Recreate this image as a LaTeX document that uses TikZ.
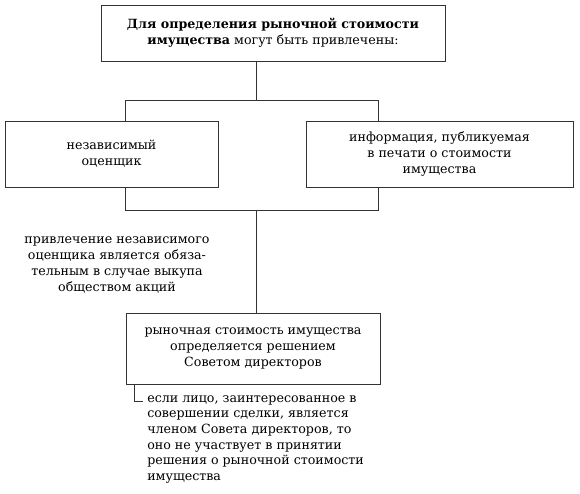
\documentclass[tikz,border=0pt]{standalone}
\usepackage{fontspec}
\setmainfont{DejaVu Serif}
\usepackage{tikz}
\usetikzlibrary{positioning}
\tikzstyle{line} = [thin, draw=black!80]
\tikzstyle{infobox} = [rectangle, draw=black!80, thin, align=center, inner sep=0pt, font=\fontsize{9.2}{11.8}\selectfont]
\tikzstyle{remark} = [inner sep=0pt, font=\fontsize{9.2}{11.4}\selectfont]

\begin{document}
\begin{tikzpicture}[x=0.727pt, y=-0.727pt]
\useasboundingbox (0,0) rectangle (580,494);
% Boxes
\node[infobox, minimum width=344*0.727pt, minimum height=56*0.727pt] (top) at (273,33)
  {\textbf{Для определения рыночной стоимости}\\\textbf{имущества} могут быть привлечены:};
\node[infobox, minimum width=213*0.727pt, minimum height=66*0.727pt] (appraiser) at (111.5,154)
  {независимый\\оценщик};
\node[infobox, minimum width=267*0.727pt, minimum height=66*0.727pt] (press) at (439.5,154)
  {информация, публикуемая\\в печати о стоимости\\имущества};
\node[infobox, minimum width=254*0.727pt, minimum height=71*0.727pt] (board) at (253,348.5)
  {рыночная стоимость имущества\\определяется решением\\Советом директоров};

% Remarks
\node[remark, align=center] (mandatory) at (117,265)
  {привлечение независимого\\оценщика является обяза-\\тельным в случае выкупа\\обществом акций};
\node[remark, align=left, anchor=north west] (interest) at (147,395)
  {если лицо, заинтересованное в\\совершении сделки, является\\членом Совета директоров, то\\оно не участвует в принятии\\решения о рыночной стоимости\\имущества};

% Connectors
\coordinate (split) at (256,100);
\coordinate (splitl) at (125,100);
\coordinate (splitr) at (378,100);
\coordinate (joinl) at (125,210);
\coordinate (joinr) at (378,210);
\coordinate (join) at (256,210);
\coordinate (foot) at (134,401);
\coordinate (tick) at (143,401);
\draw[line] (top.south -| split) -- (split);
\draw[line] (appraiser.north -| splitl) -- (splitl) -- (splitr) -- (press.north -| splitr);
\draw[line] (appraiser.south -| joinl) -- (joinl) -- (joinr) -- (press.south -| joinr);
\draw[line] (join) -- (board.north -| join);
\draw[line] (board.south -| foot) -- (foot) -- (tick);
\end{tikzpicture}
\end{document}
